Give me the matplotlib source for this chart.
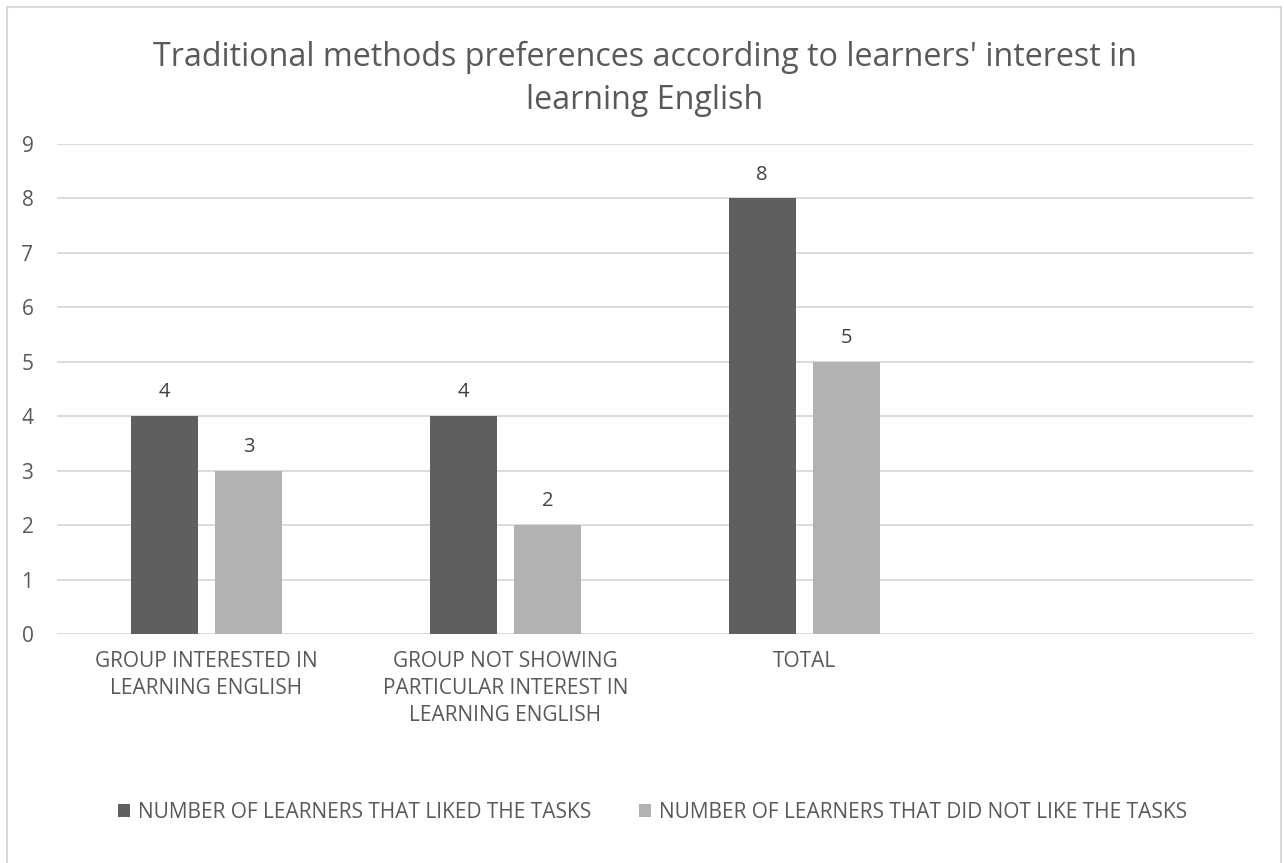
import numpy as np
from matplotlib import pyplot as plt
from matplotlib.patches import Rectangle

# categories (4th slot is empty, as in the source sheet)
categories = ['GROUP INTERESTED IN\nLEARNING ENGLISH',
              'GROUP NOT SHOWING\nPARTICULAR INTEREST IN\nLEARNING ENGLISH',
              'TOTAL', '']
liked     = [4, 4, 8, np.nan]
not_liked = [3, 2, 5, np.nan]
series_names = ['NUMBER OF LEARNERS THAT LIKED THE TASKS',
                'NUMBER OF LEARNERS THAT DID NOT LIKE THE TASKS']
title = "Traditional methods preferences according to learners' interest in\nlearning English"

plt.rcParams['font.family'] = ['Open Sans', 'DejaVu Sans']
txt = '#595959'

fig = plt.figure(figsize=(12.84, 8.63), dpi=100)
ax = fig.add_axes([57/1284, 1-634/863, (1253-57)/1284, (634-144)/863])

x = np.arange(len(categories))
w = 0.224
b1 = ax.bar(x - 0.142, liked, w, color='#5f5f5f', label=series_names[0], zorder=3)
b2 = ax.bar(x + 0.142, not_liked, w, color='#b2b2b2', label=series_names[1], zorder=3)
for bars in (b1, b2):
    ax.bar_label(bars, labels=['%d' % v if not np.isnan(v) else '' for v in bars.datavalues],
                 padding=10, fontsize=14.5, color='#404040')

ax.set_xlim(-0.5, 3.5)
ax.set_ylim(0, 9)
ax.set_yticks(range(10))
ax.set_xticks(x)
ax.set_xticklabels(categories, fontsize=15, color=txt, linespacing=1.4)
ax.tick_params(axis='y', labelsize=15, labelcolor=txt, length=0, pad=17)
ax.tick_params(axis='x', length=0, pad=12)
ax.grid(axis='y', color='#d9d9d9', linewidth=1.3, zorder=0)
for s in ax.spines.values():
    s.set_visible(False)

fig.text(0.502, 1-79/863, title, ha='center', va='center', fontsize=23.2,
         color=txt, linespacing=1.37)

leg = fig.legend(loc='center', bbox_to_anchor=(0.508, 1-812/863), ncol=2, frameon=False,
                 fontsize=15, handlelength=0.6, handleheight=0.6, handletextpad=0.35,
                 columnspacing=2.3)
for t in leg.get_texts():
    t.set_color(txt)

# chart area border
fig.patches.append(Rectangle((7/1284, -0.01), 1274/1284, 1-7/863+0.01,
                             transform=fig.transFigure, fill=False,
                             edgecolor='#d9d9d9', linewidth=1.5))

plt.savefig('out.png')
